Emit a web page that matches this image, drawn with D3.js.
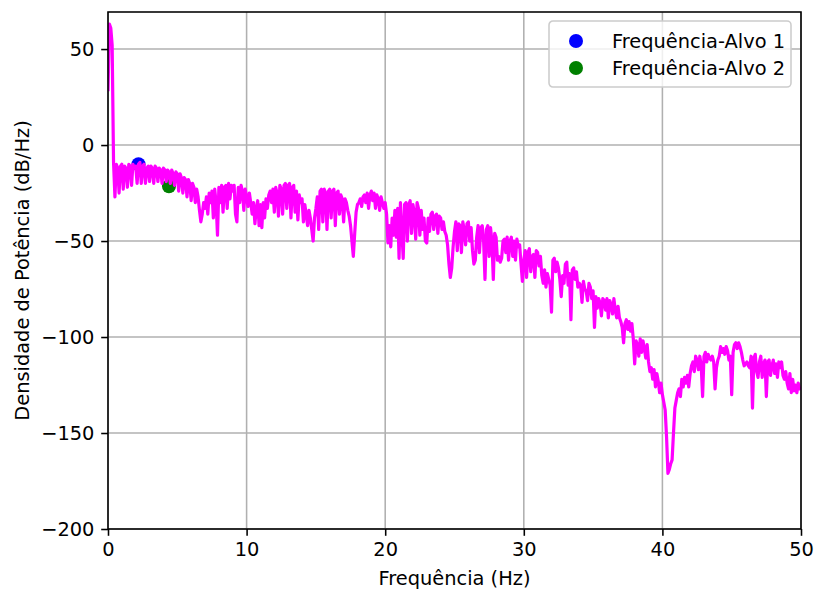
<!DOCTYPE html>
<html>
<head>
<meta charset="utf-8">
<script src="https://cdn.jsdelivr.net/npm/d3@7"></script>
<style>
  html, body { margin: 0; padding: 0; background: #ffffff; }
  svg { display: block; font-family: "DejaVu Sans", sans-serif; }
</style>
</head>
<body>
<svg id="chart" width="816" height="592"></svg>
<script>
// Power spectral density, 0–50 Hz, sampled every 0.1 Hz (one row per Hz)
const freqStep = 0.1;
const psdDb = [
  28, 63, 61, 52, -9, -27, -10, -12, -25, -11,
  -10, -23, -11, -12, -22, -10, -11, -21, -10, -12,
  -11, -20, -10, -9, -20, -11, -10, -20, -12, -11,
  -19, -11, -12, -20, -11, -12, -19, -12, -13, -20,
  -12, -13, -19, -13, -14, -20, -13, -15, -21, -14,
  -15, -24, -15, -17, -25, -17, -18, -27, -18, -20,
  -29, -20, -22, -30, -23, -27, -34, -40, -36, -30,
  -33, -27, -36, -25, -30, -24, -38, -23, -30, -47,
  -22, -30, -21, -35, -22, -21, -33, -20, -28, -21,
  -24, -21, -36, -40, -22, -30, -21, -24, -34, -23,
  -27, -32, -25, -30, -36, -30, -41, -33, -29, -42,
  -31, -43, -30, -38, -28, -33, -26, -24, -30, -23,
  -35, -22, -25, -37, -21, -23, -36, -21, -20, -33,
  -21, -20, -38, -22, -21, -35, -24, -39, -26, -30,
  -28, -40, -31, -36, -42, -34, -38, -44, -50, -38,
  -33, -27, -44, -24, -23, -40, -23, -25, -44, -24,
  -23, -38, -24, -23, -42, -25, -24, -36, -26, -28,
  -40, -28, -30, -34, -37, -42, -50, -58, -46, -35,
  -31, -30, -28, -32, -27, -26, -30, -25, -33, -26,
  -24, -29, -25, -33, -26, -28, -34, -27, -30, -33,
  -30, -36, -51, -42, -53, -38, -47, -34, -48, -33,
  -59, -30, -45, -59, -31, -30, -50, -31, -29, -46,
  -31, -35, -49, -30, -33, -47, -34, -44, -38, -50,
  -51, -38, -45, -36, -35, -44, -37, -36, -46, -37,
  -38, -44, -40, -45, -47, -52, -62, -69, -64, -53,
  -45, -40, -55, -41, -42, -56, -40, -44, -52, -41,
  -40, -50, -43, -55, -62, -60, -48, -42, -56, -43,
  -42, -50, -70, -44, -42, -58, -43, -50, -70, -46,
  -48, -60, -58, -61, -59, -50, -49, -56, -48, -60,
  -50, -48, -58, -50, -60, -49, -53, -52, -62, -71,
  -60, -55, -69, -56, -54, -66, -58, -57, -69, -55,
  -56, -63, -58, -68, -72, -65, -74, -67, -70, -73,
  -87, -60, -59, -66, -61, -64, -70, -79, -68, -72,
  -62, -61, -73, -67, -91, -65, -64, -70, -66, -74,
  -72, -73, -82, -71, -75, -76, -81, -72, -74, -80,
  -76, -95, -79, -85, -80, -82, -89, -80, -81, -86,
  -80, -90, -81, -83, -88, -80, -86, -90, -84, -90,
  -92, -95, -103, -93, -91, -96, -92, -97, -93, -101,
  -114, -102, -104, -110, -101, -108, -102, -106, -111, -104,
  -113, -118, -116, -122, -117, -126, -119, -123, -129, -124,
  -130, -134, -138, -152, -171, -169, -166, -164, -150, -137,
  -133, -129, -127, -131, -122, -126, -121, -124, -120, -126,
  -119, -115, -113, -118, -110, -112, -117, -110, -115, -131,
  -110, -108, -113, -109, -111, -112, -110, -113, -127, -116,
  -112, -110, -105, -108, -106, -109, -105, -107, -112, -110,
  -130, -108, -104, -103, -106, -103, -105, -108, -112, -115,
  -114, -113, -115, -116, -110, -137, -111, -109, -118, -121,
  -113, -110, -121, -114, -112, -131, -113, -112, -120, -115,
  -112, -119, -114, -121, -113, -116, -113, -120, -122, -118,
  -124, -127, -119, -129, -122, -128, -125, -129, -124, -127,
  -126
];

// Highlighted target frequencies
const targetNames = ["Frequência-Alvo 1", "Frequência-Alvo 2"];
const targetFreqs = [2.2, 4.4];
const targetDb = [-10, -21.5];
const targetColors = ["#0000ff", "#008000"];

// Axis ticks and titles
const xTicks = [0, 10, 20, 30, 40, 50];
const yTicks = [-200, -150, -100, -50, 0, 50];
const xTitle = "Frequência (Hz)";
const yTitle = "Densidade de Potência (dB/Hz)";

const margin = { left: 108, right: 15, top: 12, bottom: 63 };
const W = 816, H = 592;
const iw = W - margin.left - margin.right;
const ih = H - margin.top - margin.bottom;

const svg = d3.select("#chart");
const g = svg.append("g").attr("transform", `translate(${margin.left},${margin.top})`);

const x = d3.scaleLinear().domain([0, 50]).range([0, iw]);
const y = d3.scaleLinear().domain([-200, 69.3]).range([ih, 0]);

const fontPx = 19.4;
const lw = 1.56;
const fmt = d => (d < 0 ? "\u2212" + Math.abs(d) : String(d));

// grid
g.append("g").selectAll("line").data(xTicks).join("line")
  .attr("x1", d => x(d)).attr("x2", d => x(d))
  .attr("y1", 0).attr("y2", ih)
  .attr("stroke", "#b0b0b0").attr("stroke-width", lw);
g.append("g").selectAll("line").data(yTicks).join("line")
  .attr("x1", 0).attr("x2", iw)
  .attr("y1", d => y(d)).attr("y2", d => y(d))
  .attr("stroke", "#b0b0b0").attr("stroke-width", lw);

// target markers (under the spectrum line)
const pts = targetFreqs.map((f, i) => ({ f, v: targetDb[i], c: targetColors[i] }));
g.append("g").selectAll("circle").data(pts).join("circle")
  .attr("cx", d => x(d.f)).attr("cy", d => y(d.v))
  .attr("r", 7).attr("fill", d => d.c);

// spectrum line
const series = psdDb.map((v, i) => ({ f: i * freqStep, v }));
g.append("defs").append("clipPath").attr("id", "plotclip")
  .append("rect").attr("width", iw).attr("height", ih);
g.append("path").datum(series)
  .attr("clip-path", "url(#plotclip)")
  .attr("fill", "none").attr("stroke", "#ff00ff")
  .attr("stroke-width", 3.2).attr("stroke-linejoin", "round").attr("stroke-linecap", "butt")
  .attr("d", d3.line().x(d => x(d.f)).y(d => y(d.v)));

// axes
const xAxis = g.append("g").attr("transform", `translate(0,${ih})`)
  .call(d3.axisBottom(x).tickValues(xTicks).tickFormat(fmt).tickSizeInner(6.8).tickSizeOuter(0).tickPadding(6.8));
const yAxis = g.append("g")
  .call(d3.axisLeft(y).tickValues(yTicks).tickFormat(fmt).tickSizeInner(6.8).tickSizeOuter(0).tickPadding(6.8));
[xAxis, yAxis].forEach(a => {
  a.select(".domain").remove();
  a.selectAll(".tick line").attr("stroke", "#000").attr("stroke-width", lw);
  a.selectAll(".tick text").attr("fill", "#000")
    .style("font-family", "'DejaVu Sans', sans-serif").style("font-size", fontPx + "px");
});

// frame
g.append("rect").attr("width", iw).attr("height", ih)
  .attr("fill", "none").attr("stroke", "#000").attr("stroke-width", lw);

// axis titles
svg.append("text")
  .attr("x", margin.left + iw / 2).attr("y", 585)
  .attr("text-anchor", "middle").attr("font-size", fontPx).attr("fill", "#000")
  .text(xTitle);
svg.append("text")
  .attr("transform", `translate(29,${margin.top + ih / 2}) rotate(-90)`)
  .attr("text-anchor", "middle").attr("font-size", fontPx).attr("fill", "#000")
  .text(yTitle);

// legend
const lg = svg.append("g").attr("transform", "translate(549,21)");
lg.append("rect").attr("width", 242).attr("height", 66).attr("rx", 4)
  .attr("fill", "#ffffff").attr("fill-opacity", 0.8)
  .attr("stroke", "#cccccc").attr("stroke-width", lw);
targetNames.forEach((name, i) => {
  const cy = 20 + i * 27;
  lg.append("circle").attr("cx", 27).attr("cy", cy).attr("r", 7).attr("fill", targetColors[i]);
  lg.append("text").attr("x", 63).attr("y", cy).attr("dy", "0.35em")
    .attr("font-size", fontPx).attr("fill", "#000").text(name);
});
</script>
</body>
</html>
